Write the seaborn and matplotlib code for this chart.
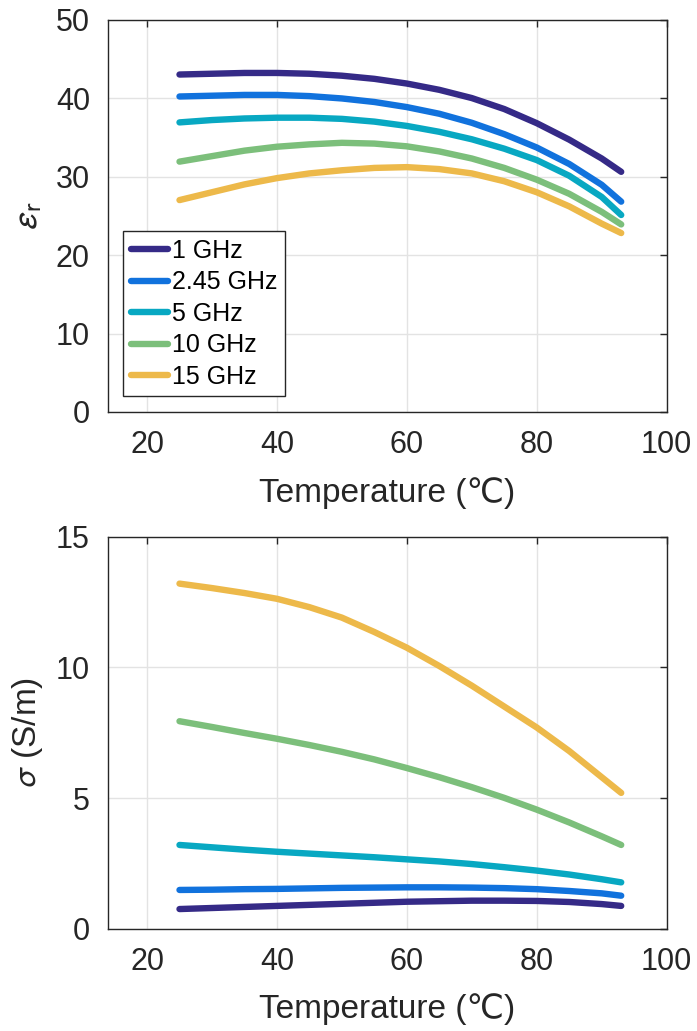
import numpy as np
import pandas as pd
import matplotlib
matplotlib.use("Agg")
import matplotlib.pyplot as plt
import seaborn as sns

temps = [25, 30, 35, 40, 45, 50, 55, 60, 65, 70, 75, 80, 85, 90, 93]
freqs = ['1 GHz', '2.45 GHz', '5 GHz', '10 GHz', '15 GHz']

# relative permittivity
eps_1 = [43.0, 43.1, 43.2, 43.2, 43.1, 42.85, 42.45, 41.85, 41.05, 40.0, 38.6, 36.8, 34.7, 32.3, 30.6]
eps_245 = [40.2, 40.3, 40.4, 40.4, 40.25, 39.95, 39.5, 38.85, 38.0, 36.85, 35.4, 33.7, 31.6, 28.95, 26.8]
eps_5 = [36.9, 37.2, 37.4, 37.5, 37.5, 37.35, 37.0, 36.45, 35.7, 34.75, 33.55, 32.1, 30.1, 27.4, 25.1]
eps_10 = [31.9, 32.6, 33.3, 33.8, 34.1, 34.3, 34.2, 33.85, 33.2, 32.3, 31.1, 29.6, 27.8, 25.5, 23.9]
eps_15 = [27.0, 28.0, 29.0, 29.8, 30.4, 30.8, 31.1, 31.2, 30.95, 30.4, 29.4, 28.0, 26.2, 24.0, 22.8]

# conductivity (S/m)
sig_1 = [0.76, 0.80, 0.84, 0.88, 0.92, 0.96, 1.00, 1.04, 1.06, 1.08, 1.08, 1.07, 1.03, 0.95, 0.88]
sig_245 = [1.49, 1.50, 1.52, 1.53, 1.55, 1.57, 1.58, 1.59, 1.59, 1.58, 1.56, 1.52, 1.45, 1.36, 1.27]
sig_5 = [3.21, 3.12, 3.03, 2.95, 2.88, 2.81, 2.74, 2.66, 2.58, 2.48, 2.36, 2.23, 2.08, 1.90, 1.78]
sig_10 = [7.94, 7.72, 7.49, 7.27, 7.03, 6.77, 6.48, 6.15, 5.80, 5.42, 5.01, 4.56, 4.07, 3.54, 3.21]
sig_15 = [13.2, 13.03, 12.84, 12.62, 12.3, 11.9, 11.35, 10.75, 10.05, 9.3, 8.5, 7.7, 6.8, 5.8, 5.2]

colors = ['#352A87', '#1172DD', '#08A8C2', '#7CBF7B', '#EDB94A']

rows = []
for f, e, s in zip(freqs, [eps_1, eps_245, eps_5, eps_10, eps_15],
                   [sig_1, sig_245, sig_5, sig_10, sig_15]):
    for t, ev, sv in zip(temps, e, s):
        rows.append({'T': t, 'freq': f, 'eps': ev, 'sigma': sv})
df = pd.DataFrame(rows)

sns.set_style('whitegrid')
plt.rcParams['font.family'] = ['Liberation Sans', 'DejaVu Sans']
plt.rcParams['mathtext.fontset'] = 'stixsans'
txt = '#262626'

fig = plt.figure(figsize=(6.97, 10.31), dpi=100)
ax1 = fig.add_axes([0.155, 0.6004, 0.8015, 0.3806])
ax2 = fig.add_axes([0.155, 0.099, 0.8015, 0.3806])

pal = dict(zip(freqs, colors))
sns.lineplot(data=df, x='T', y='eps', hue='freq', hue_order=freqs, palette=pal,
             linewidth=4.6, ax=ax1)
sns.lineplot(data=df, x='T', y='sigma', hue='freq', hue_order=freqs, palette=pal,
             linewidth=4.6, ax=ax2, legend=False)

for ax, ylim, yt in [(ax1, (0, 50), [0, 10, 20, 30, 40, 50]),
                     (ax2, (0, 15), [0, 5, 10, 15])]:
    ax.set_xlim(14, 100)
    ax.set_ylim(*ylim)
    ax.set_xticks([20, 40, 60, 80, 100])
    ax.set_yticks(yt)
    ax.grid(True, color='#E3E3E3', linewidth=1)
    for sp in ax.spines.values():
        sp.set_visible(True)
        sp.set_color(txt)
        sp.set_linewidth(1)
    ax.tick_params(direction='in', length=5, width=1, colors=txt, labelsize=22,
                   top=True, right=True, pad=13)
    ax.set_xlabel('Temperature (℃)', fontsize=24, color=txt, labelpad=12)

ax1.set_ylabel(r'$\epsilon_\mathrm{r}$', fontsize=26, color=txt, labelpad=8)
ax2.set_ylabel(r'$\sigma$ (S/m)', fontsize=24, color=txt, labelpad=8)

leg = ax1.legend(loc='lower left', bbox_to_anchor=(0.027, 0.04), borderaxespad=0,
                 fontsize=18, handlelength=1.5, handletextpad=0.15, labelspacing=0.3,
                 fancybox=False, framealpha=1, edgecolor=txt, borderpad=0.3)
leg.get_frame().set_linewidth(1)
for t in leg.get_texts():
    t.set_color('black')

fig.savefig('out.png', dpi=100)
